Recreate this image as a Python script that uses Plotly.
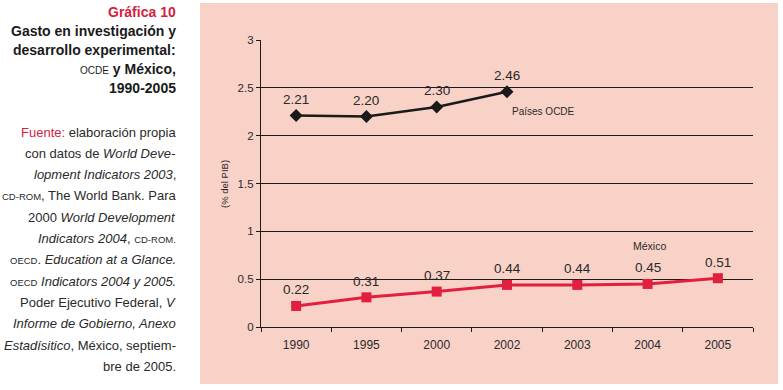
import plotly.graph_objects as go

years = ["1990", "1995", "2000", "2002", "2003", "2004", "2005"]
ocde_years = ["1990", "1995", "2000", "2002"]
ocde_values = [2.21, 2.20, 2.30, 2.46]
ocde_labels = ["2.21", "2.20", "2.30", "2.46"]
mexico_values = [0.22, 0.31, 0.37, 0.44, 0.44, 0.45, 0.51]
mexico_labels = ["0.22", "0.31", "0.37", "0.44", "0.44", "0.45", "0.51"]
y_ticks = [0, 0.5, 1, 1.5, 2, 2.5, 3]
y_tick_labels = ["0", "0.5", "1", "1.5", "2", "2.5", "3"]

W, H = 783, 390
PINK = "#F8D1C7"
RED = "#E21F3F"
TITLE_RED = "#D4213F"
BLACK = "#1a1a1a"
TXT = "#2a2a2a"
FONT = "Liberation Sans, Arial, sans-serif"


def px(x):
    return x / W


def py(y):
    return 1 - y / H


fig = go.Figure()

fig.add_trace(go.Scatter(
    x=ocde_years, y=ocde_values, mode="lines+markers",
    line=dict(color=BLACK, width=2.5),
    marker=dict(symbol="diamond", size=10, color=BLACK),
    showlegend=False, hoverinfo="skip", cliponaxis=False,
))
fig.add_trace(go.Scatter(
    x=years, y=mexico_values, mode="lines+markers",
    line=dict(color=RED, width=3),
    marker=dict(symbol="square", size=10, color=RED),
    showlegend=False, hoverinfo="skip", cliponaxis=False,
))

annotations = []
for x, v, t in zip(ocde_years, ocde_values, ocde_labels):
    annotations.append(dict(x=years.index(x), y=v, xref="x", yref="y", text=t, showarrow=False,
                            yshift=16, xanchor="center", yanchor="middle",
                            font=dict(size=13.5, color=TXT, family=FONT)))
for x, v, t in zip(years, mexico_values, mexico_labels):
    annotations.append(dict(x=years.index(x), y=v, xref="x", yref="y", text=t, showarrow=False,
                            yshift=16, xanchor="center", yanchor="middle",
                            font=dict(size=13.5, color=TXT, family=FONT)))

annotations.append(dict(x=px(543), y=py(111), xref="paper", yref="paper",
                        text="Países OCDE", showarrow=False,
                        xanchor="center", yanchor="middle",
                        font=dict(size=10, color=TXT, family=FONT)))
annotations.append(dict(x=px(649), y=py(246), xref="paper", yref="paper",
                        text="México", showarrow=False,
                        xanchor="center", yanchor="middle",
                        font=dict(size=10.5, color=TXT, family=FONT)))
annotations.append(dict(x=px(224), y=py(184), xref="paper", yref="paper",
                        text="(% del PIB)", showarrow=False, textangle=-90,
                        xanchor="center", yanchor="middle",
                        font=dict(size=9.5, color=TXT, family=FONT)))

# Left text block
RIGHT = px(178)
title_lines = [
    (12, "<span style='color:%s'><b>Gráfica 10</b></span>" % TITLE_RED),
    (31, "<b>Gasto en investigación y</b>"),
    (50, "<b>desarrollo experimental:</b>"),
    (69, "<span style='font-size:10px'>OCDE</span><b> y México,</b>"),
    (88, "<b>1990-2005</b>"),
]
for yy, t in title_lines:
    annotations.append(dict(x=RIGHT, y=py(yy), xref="paper", yref="paper", text=t,
                            showarrow=False, xanchor="right", yanchor="middle",
                            font=dict(size=14, color="#1a1a1a", family=FONT)))

SC = "<span style='font-size:9.5px'>%s</span>"
source_lines = [
    "<span style='color:%s'>Fuente:</span> elaboración propia" % TITLE_RED,
    "con datos de <i>World Deve-</i>",
    "<i>lopment Indicators 2003</i>,",
    SC % "CD-ROM" + ", The World Bank. Para",
    "2000 <i>World Development</i>",
    "<i>Indicators 2004</i>, " + SC % "CD-ROM.",
    SC % "OECD" + ". <i>Education at a Glance.</i>",
    SC % "OECD" + " <i>Indicators 2004 y 2005.</i>",
    "Poder Ejecutivo Federal, <i>V</i>",
    "<i>Informe de Gobierno, Anexo</i>",
    "<i>Estadísitico</i>, México, septiem-",
    "bre de 2005.",
]
for i, t in enumerate(source_lines):
    yy = 132 + i * 21.3
    annotations.append(dict(x=RIGHT, y=py(yy), xref="paper", yref="paper", text=t,
                            showarrow=False, xanchor="right", yanchor="middle",
                            font=dict(size=13, color="#2a2a2a", family=FONT)))

fig.add_shape(type="rect", xref="paper", yref="paper",
              x0=px(200), x1=px(778), y0=py(384), y1=py(3),
              fillcolor=PINK, line=dict(width=0), layer="below")

fig.update_layout(
    width=W, height=H,
    margin=dict(l=0, r=0, t=0, b=0, autoexpand=False),
    paper_bgcolor="white",
    plot_bgcolor="rgba(0,0,0,0)",
    annotations=annotations,
    xaxis=dict(
        domain=[px(261), px(753)],
        type="category", categoryorder="array", categoryarray=years,
        range=[-0.5, 6.5], automargin=False,
        tickson="boundaries", ticks="outside", ticklen=4, tickcolor=BLACK,
        ticklabelstandoff=6,
        showline=True, linecolor=BLACK, linewidth=1.2,
        showgrid=False, zeroline=False,
        tickfont=dict(size=12, color=TXT, family=FONT),
    ),
    yaxis=dict(
        domain=[py(327), py(40)],
        range=[0, 3], automargin=False,
        tickvals=y_ticks, ticktext=y_tick_labels,
        ticks="outside", ticklen=4, tickcolor=BLACK,
        showline=True, linecolor=BLACK, linewidth=1.2,
        showgrid=True, gridcolor=BLACK, gridwidth=1,
        zeroline=False,
        tickfont=dict(size=11.5, color=TXT, family=FONT),
    ),
)

fig.write_html(
    "out.html",
    config={"displayModeBar": False},
    post_script="document.body.style.margin='0';document.body.style.overflow='hidden';",
)
